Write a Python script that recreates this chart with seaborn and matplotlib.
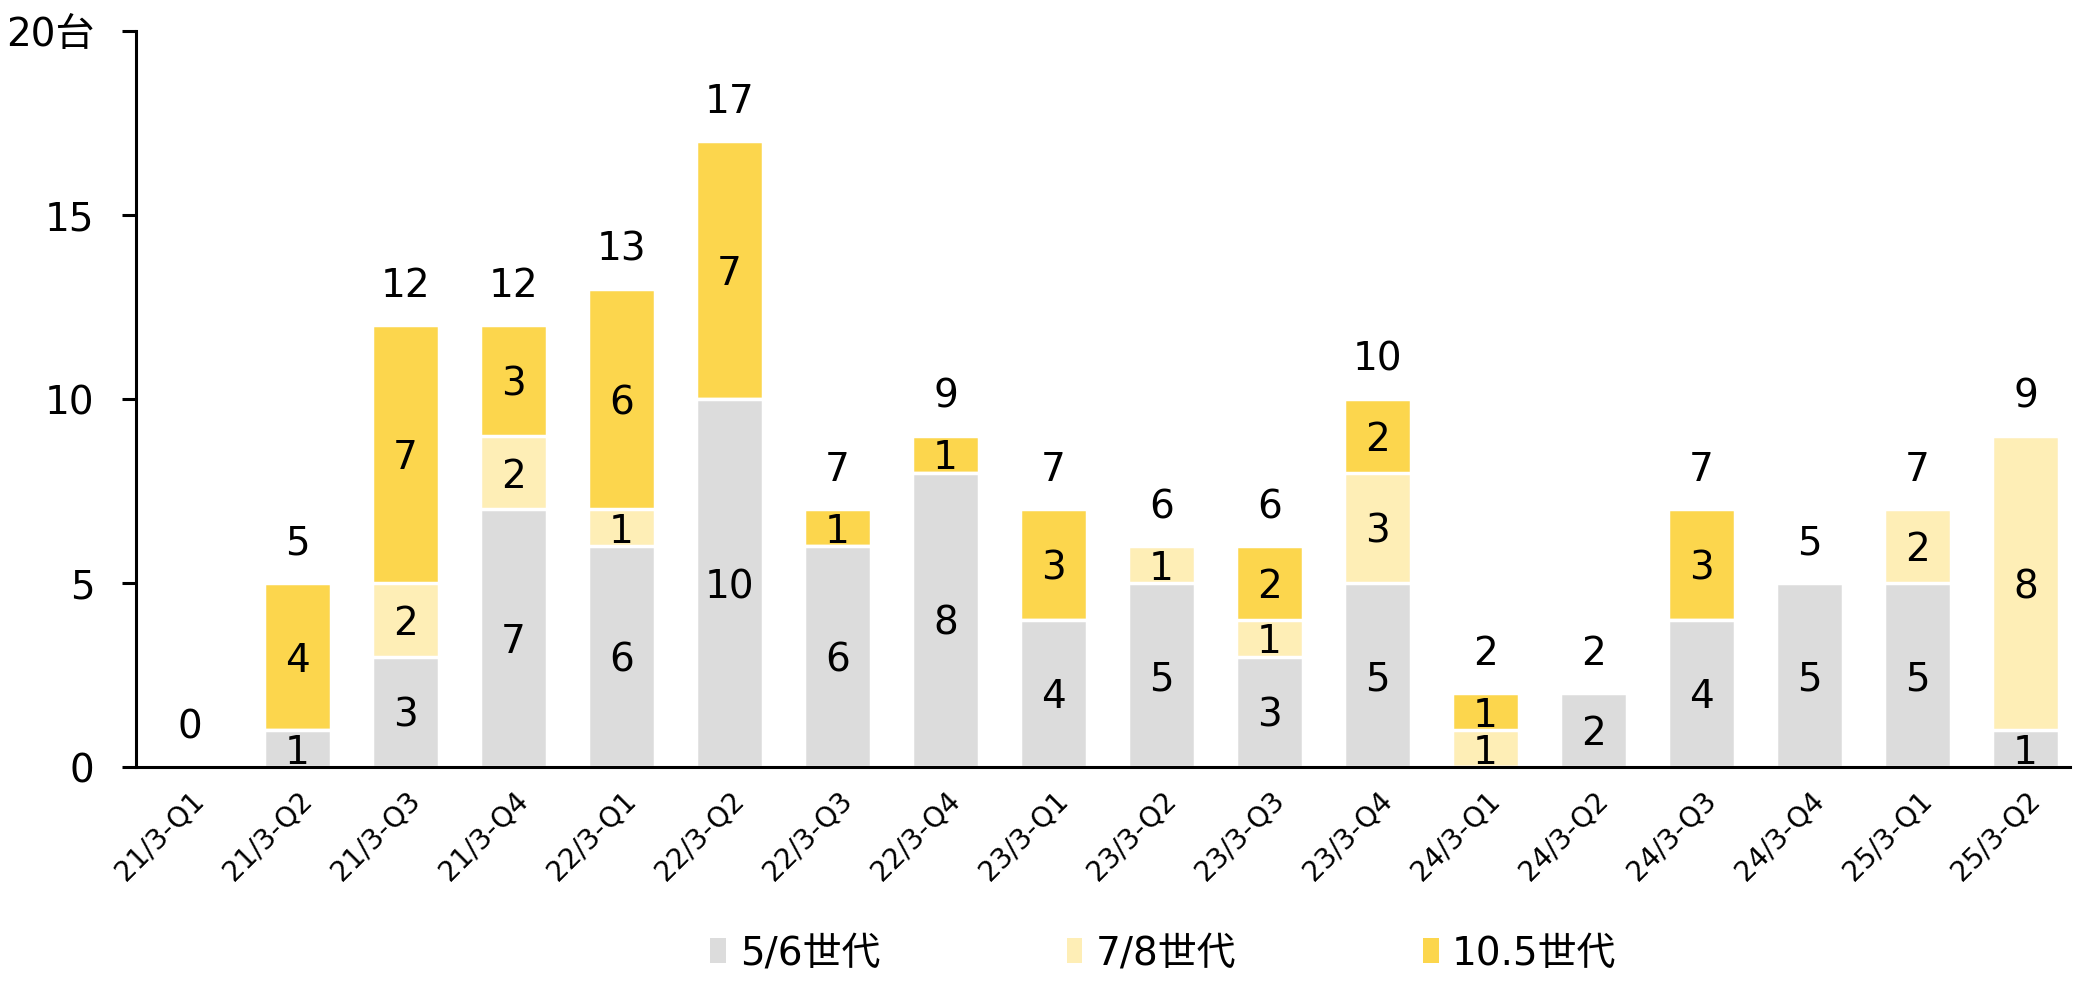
import numpy as np
import pandas as pd
import matplotlib
matplotlib.use('Agg')
import matplotlib.pyplot as plt
import seaborn as sns

quarters = ['21/3-Q1', '21/3-Q2', '21/3-Q3', '21/3-Q4', '22/3-Q1', '22/3-Q2',
            '22/3-Q3', '22/3-Q4', '23/3-Q1', '23/3-Q2', '23/3-Q3', '23/3-Q4',
            '24/3-Q1', '24/3-Q2', '24/3-Q3', '24/3-Q4', '25/3-Q1', '25/3-Q2']
gen56 = [0, 1, 3, 7, 6, 10, 6, 8, 4, 5, 3, 5, 0, 2, 4, 5, 5, 1]
gen78 = [0, 0, 2, 2, 1, 0, 0, 0, 0, 1, 1, 3, 1, 0, 0, 0, 2, 8]
gen105 = [0, 4, 7, 3, 6, 7, 1, 1, 3, 0, 2, 2, 1, 0, 3, 0, 0, 0]
series_names = ['5/6世代', '7/8世代', '10.5世代']
colors = ['#DCDCDC', '#FEEEB6', '#FCD64D']
ytick_labels = ['0', '5', '10', '15', '20台']

df = pd.DataFrame({'quarter': quarters, 'g56': gen56, 'g78': gen78, 'g105': gen105})
df['low'] = df['g56']
df['mid'] = df['g56'] + df['g78']
df['total'] = df['mid'] + df['g105']

sns.set_theme(style='ticks')
plt.rcParams['font.family'] = ['DejaVu Sans', 'Noto Sans CJK JP']
plt.rcParams['text.color'] = 'black'
plt.rcParams['xtick.color'] = 'black'
plt.rcParams['ytick.color'] = 'black'

fig = plt.figure(figsize=(20.74, 9.81), dpi=100)
ax = fig.add_axes([0.0656, 0.2181, 0.9324, 0.7503])

# stacked look: draw cumulative heights back to front
bar_kw = dict(width=0.62, edgecolor='white', linewidth=2.5, saturation=1, errorbar=None, ax=ax)
sns.barplot(data=df, x='quarter', y='total', color=colors[2], label=series_names[2], **bar_kw)
sns.barplot(data=df, x='quarter', y='mid', color=colors[1], label=series_names[1], **bar_kw)
sns.barplot(data=df, x='quarter', y='low', color=colors[0], label=series_names[0], **bar_kw)
handles, labels = ax.get_legend_handles_labels()
if ax.get_legend() is not None:
    ax.get_legend().remove()

fs = 28
# segment labels
for i in range(len(quarters)):
    base = 0
    for v in (gen56[i], gen78[i], gen105[i]):
        if v > 0:
            ax.text(i, base + v / 2, str(v), ha='center', va='center_baseline', fontsize=fs, color='black')
        base += v
    ax.annotate(str(df['total'][i]), (i, df['total'][i]), xytext=(0, 31), textcoords='offset points',
                ha='center', va='center_baseline', fontsize=fs, color='black')

ax.set_ylim(0, 20)
ax.set_xlim(-0.495, 17.41)
ax.set_yticks([0, 5, 10, 15, 20])
ax.set_yticklabels(ytick_labels)
ax.set_xlabel('')
ax.set_ylabel('')
ax.tick_params(axis='y', labelsize=fs, length=10, width=2.2, color='black', labelcolor='black', pad=20)
ax.tick_params(axis='x', labelsize=20, length=0, pad=14, labelcolor='black')
plt.setp(ax.get_xticklabels(), rotation=45, ha='right', rotation_mode='anchor')
for side in ['top', 'right']:
    ax.spines[side].set_visible(False)
for side in ['left', 'bottom']:
    ax.spines[side].set_linewidth(2.2)
    ax.spines[side].set_color('black')

order = [labels.index(n) for n in series_names]
leg = fig.legend([handles[k] for k in order], [labels[k] for k in order],
                 loc='center', bbox_to_anchor=(0.561, 0.028), ncol=3, frameon=False,
                 fontsize=fs, handlelength=0.4, handleheight=0.6, handletextpad=0.35,
                 columnspacing=4.8)
for p in leg.get_patches():
    p.set_linewidth(0)

fig.savefig('out.png', dpi=100)
